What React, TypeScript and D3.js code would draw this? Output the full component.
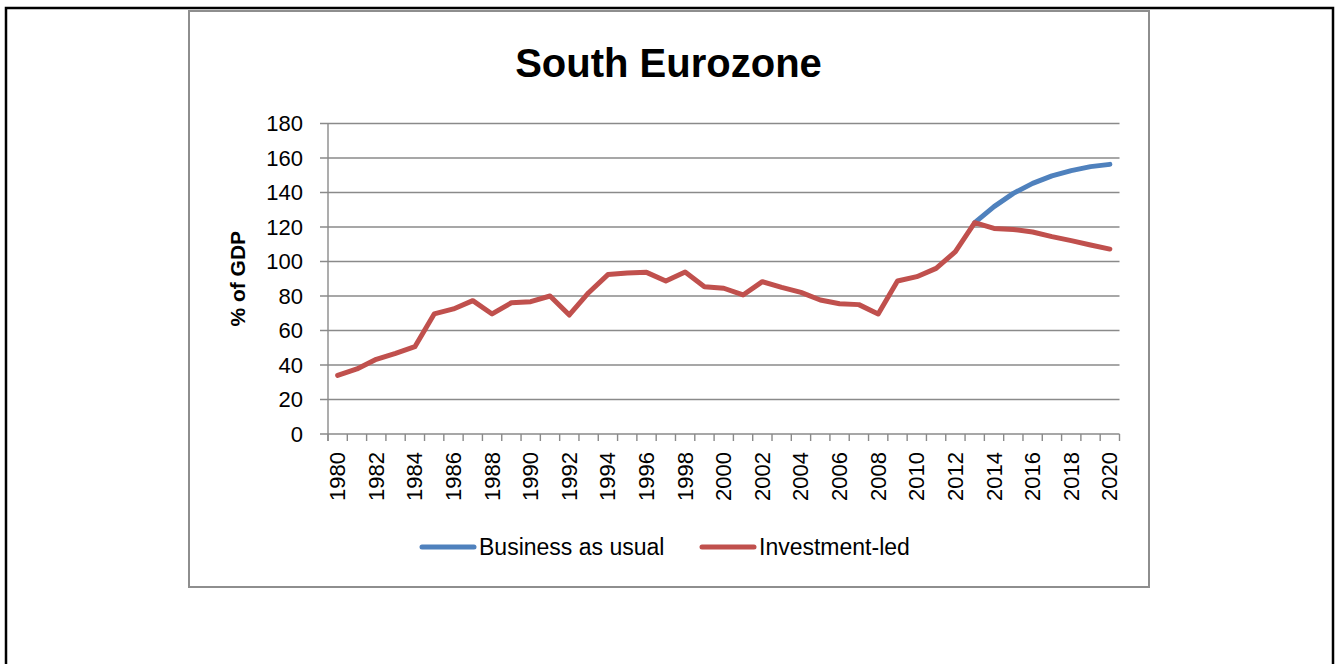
import React from "react";
import * as d3 from "d3";

const years: string[] = [
  "1980","1981","1982","1983","1984","1985","1986","1987","1988","1989",
  "1990","1991","1992","1993","1994","1995","1996","1997","1998","1999",
  "2000","2001","2002","2003","2004","2005","2006","2007","2008","2009",
  "2010","2011","2012","2013","2014","2015","2016","2017","2018","2019","2020",
];

const investmentLed: (number | null)[] = [
  34, 37.7, 43.3, 46.8, 50.6, 69.6, 72.5, 77.3, 69.6, 76.1,
  76.7, 80, 69, 81.9, 92.4, 93.3, 93.7, 88.7, 93.9, 85.4,
  84.5, 80.6, 88.3, 85, 82.1, 77.7, 75.5, 75, 69.6, 88.7,
  91.2, 96, 105.7, 122.5, 119.2, 118.6, 117.1, 114.4, 112.1, 109.6, 107.2,
];

const businessAsUsual: (number | null)[] = [
  null, null, null, null, null, null, null, null, null, null,
  null, null, null, null, null, null, null, null, null, null,
  null, null, null, null, null, null, null, null, null, null,
  null, null, null, 122.5, 131.8, 139.5, 145.3, 149.6, 152.7, 155, 156.3,
];

const yTicks: number[] = [0, 20, 40, 60, 80, 100, 120, 140, 160, 180];

const seriesNames = ["Business as usual", "Investment-led"];
const seriesColors = ["#4F81BD", "#C0504D"];

const FONT = "'Liberation Sans', Arial, sans-serif";

export default function App() {
  const W = 1338;
  const H = 664;
  const plotLeft = 328;
  const plotRight = 1119.5;
  const plotTop = 123.5;
  const plotBottom = 434;

  const x = d3.scaleBand<string>().domain(years).range([plotLeft, plotRight]).paddingInner(0).paddingOuter(0);
  const y = d3.scaleLinear().domain([0, 180]).range([plotBottom, plotTop]);

  const line = d3
    .line<number | null>()
    .defined((d) => d !== null)
    .x((_, i) => (x(years[i]) as number) + x.bandwidth() / 2)
    .y((d) => y(d as number));

  const gridColor = "#8a8a8a";
  const boundaries = years.map((yr) => x(yr) as number).concat([plotRight]);

  return (
    <div style={{ position: "absolute", left: 0, top: 0 }}>
      <svg width={W} height={H} style={{ display: "block" }}>
        <rect x={0} y={0} width={W} height={H} fill="#ffffff" />
        {/* outer black frame */}
        <rect x={6} y={8} width={1327} height={670} fill="none" stroke="#000" strokeWidth={2.5} />
        {/* chart area box */}
        <rect x={189} y={11} width={960} height={576} fill="#fff" stroke="#8e8e8e" strokeWidth={2} />

        {/* title */}
        <text x={668.5} y={77} textAnchor="middle" fontFamily={FONT} fontWeight="bold" fontSize={40} fill="#000">
          South Eurozone
        </text>

        {/* gridlines and y ticks */}
        {yTicks.map((t) => (
          <g key={t}>
            <line x1={plotLeft - 8} x2={plotRight} y1={y(t)} y2={y(t)} stroke={gridColor} strokeWidth={1.4} />
            <text
              x={303}
              y={y(t)}
              dy="0.35em"
              textAnchor="end"
              fontFamily={FONT}
              fontSize={22}
              fill="#000"
            >
              {t}
            </text>
          </g>
        ))}

        {/* y axis */}
        <line x1={plotLeft} x2={plotLeft} y1={plotTop} y2={plotBottom + 7} stroke={gridColor} strokeWidth={1.4} />

        {/* x tick marks */}
        {boundaries.map((bx, i) => (
          <line key={i} x1={bx} x2={bx} y1={plotBottom} y2={plotBottom + 7} stroke={gridColor} strokeWidth={1.4} />
        ))}

        {/* x labels */}
        {years.map((yr, i) =>
          i % 2 === 0 ? (
            <text
              key={yr}
              transform={`translate(${(x(yr) as number) + x.bandwidth() / 2 + 7.5},452) rotate(-90)`}
              textAnchor="end"
              fontFamily={FONT}
              fontSize={22}
              fill="#000"
            >
              {yr}
            </text>
          ) : null
        )}

        {/* y axis title */}
        <text
          transform={`translate(245,${(plotTop + plotBottom) / 2}) rotate(-90)`}
          textAnchor="middle"
          fontFamily={FONT}
          fontWeight="bold"
          fontSize={21}
          fill="#000"
        >
          % of GDP
        </text>

        {/* series */}
        <path
          d={line(businessAsUsual) || ""}
          fill="none"
          stroke={seriesColors[0]}
          strokeWidth={5}
          strokeLinejoin="round"
          strokeLinecap="round"
        />
        <path
          d={line(investmentLed) || ""}
          fill="none"
          stroke={seriesColors[1]}
          strokeWidth={5}
          strokeLinejoin="round"
          strokeLinecap="round"
        />

        {/* legend */}
        {seriesNames.map((name, i) => {
          const lx = 422 + i * 280;
          return (
            <g key={name}>
              <line x1={lx} x2={lx + 52} y1={547} y2={547} stroke={seriesColors[i]} strokeWidth={5} strokeLinecap="round" />
              <text x={lx + 57} y={547} dy="0.35em" fontFamily={FONT} fontSize={23} fill="#000">
                {name}
              </text>
            </g>
          );
        })}
      </svg>
    </div>
  );
}
